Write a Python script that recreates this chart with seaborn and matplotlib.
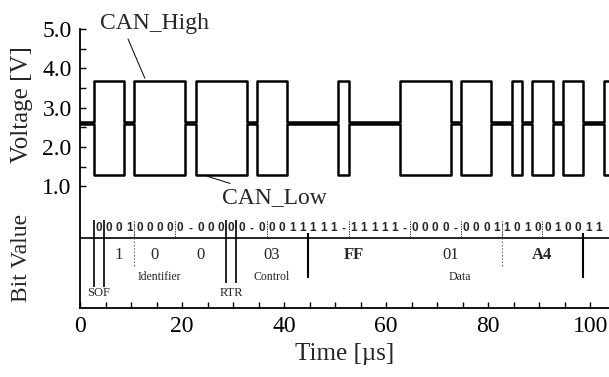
import numpy as np
import pandas as pd
import matplotlib
matplotlib.use("Agg")
import matplotlib.pyplot as plt
import seaborn as sns

# ---------------- data ----------------
bit_time_us = 2.0          # 500 kbit/s
sof_start_us = 2.65        # start of frame
x_max_us = 103.7

# actual bus level of each bit (0 = dominant, 1 = recessive), stuff bits included
bus_levels = [0, 0, 0, 1, 0, 0, 0, 0, 0, 1, 0, 0, 0, 0, 0, 1, 0, 0, 0, 1,
              1, 1, 1, 1, 0, 1, 1, 1, 1, 1, 0, 0, 0, 0, 0, 1, 0, 0, 0, 1,
              1, 0, 1, 0, 0, 1, 0, 0, 1, 1, 0]
# value printed in the "Bit Value" row ('-' = stuff bit)
bit_labels = list("0001" "00000-000" "0" "0-00011" "111-11111-" "0000-0001"
                  "10100100" "110")

# voltages
can_high_dominant = 3.68
can_low_dominant = 1.28
can_high_recessive = 2.63
can_low_recessive = 2.57

# hex groups: (text, first bit index, end bit index, bold)
hex_text = ["1", "0", "0", "03", "FF", "01", "A4"]
hex_start = [1, 4, 8, 14, 21, 30, 40]
hex_end = [4, 8, 13, 21, 30, 40, 48]
hex_bold = [False, False, False, False, True, False, True]

# field names and their label positions (µs)
field_names = ["Identifier", "Control", "Data"]
field_label_us = [15.65, 37.65, 74.5]
small_fields = ["SOF", "RTR"]
small_field_bit = [0, 13]

# ---------------- build waveform table ----------------
n_bits = len(bus_levels)
t_edges = [0.0] + [sof_start_us + k * bit_time_us for k in range(n_bits)] + [x_max_us]
lvl = [1] + bus_levels + [bus_levels[-1]]
high = [can_high_recessive if b else can_high_dominant for b in lvl]
low = [can_low_recessive if b else can_low_dominant for b in lvl]
df = pd.DataFrame({
    "t": t_edges * 2,
    "volts": high + low,
    "line": ["CAN_High"] * len(t_edges) + ["CAN_Low"] * len(t_edges),
})

# ---------------- figure ----------------
sns.set_theme(style="ticks")
plt.rcParams["font.family"] = ["Liberation Serif", "DejaVu Serif"]

fig = plt.figure(figsize=(6.09, 3.77), dpi=100)
ax = fig.add_axes([80 / 609, 1 - 308 / 377, 529 / 609, 279 / 377])

sns.lineplot(data=df, x="t", y="volts", hue="line",
             palette={"CAN_High": "black", "CAN_Low": "black"},
             drawstyle="steps-post", estimator=None, sort=False,
             legend=False, linewidth=1.8, ax=ax)

ax.set_xlim(0, x_max_us)
ax.set_ylim(-2.1, 5.0)
for s in ["top", "right"]:
    ax.spines[s].set_visible(False)
for s in ["left", "bottom"]:
    ax.spines[s].set_linewidth(1.3)
    ax.spines[s].set_color("black")

ax.set_xticks([0, 20, 40, 60, 80, 100])
ax.set_xticks(np.arange(5, 105, 5), minor=True)
ax.set_yticks([1, 2, 3, 4, 5])
ax.set_yticklabels(["1.0", "2.0", "3.0", "4.0", "5.0"])
ax.set_yticks(np.arange(1.5, 5.0, 1.0), minor=True)
ax.tick_params(axis="both", which="both", direction="in", length=4,
               width=1.0, colors="black", labelsize=17, pad=6)
ax.set_xlabel("Time [µs]", fontsize=18, labelpad=4)
ax.set_ylabel("")

fig.text(22 / 609, 1 - 105 / 377, "Voltage [V]", rotation=90, fontsize=18,
         ha="center", va="center")
fig.text(22 / 609, 1 - 258 / 377, "Bit Value", rotation=90, fontsize=17,
         ha="center", va="center")

# annotations of the two lines
ax.annotate("CAN_High", xy=(12.7, 3.75), xytext=(3.9, 5.13),
            fontsize=17, ha="left", va="center", annotation_clip=False,
            arrowprops=dict(arrowstyle="-", color="black", lw=0.7,
                            shrinkA=1, shrinkB=0, relpos=(0.24, 0.0)))
ax.annotate("CAN_Low", xy=(25.0, 1.25), xytext=(27.8, 0.72),
            fontsize=17, ha="left", va="center", annotation_clip=False,
            arrowprops=dict(arrowstyle="-", color="black", lw=0.7,
                            shrinkA=0, shrinkB=0))

# ---------------- bit value panel ----------------
xt = ax.get_xaxis_transform()
# horizontal separator of the bit row
ax.plot([0, 1], [0.251, 0.251], transform=ax.transAxes, color="black",
        lw=1.2, clip_on=False)
# printed bit values (only those that fit inside the visible window)
for k, lab in enumerate(bit_labels):
    tc = sof_start_us + (k + 0.5) * bit_time_us
    if tc > x_max_us - 0.8:
        break
    ax.text(tc, 0.285, lab, transform=xt, ha="center", va="center",
            fontsize=8.5, family=["Liberation Sans", "DejaVu Sans"],
            fontweight="bold")
# short separators in the bit row
for k in [4, 8, 17, 25, 31, 36, 40, 44]:
    tb = sof_start_us + k * bit_time_us
    ax.vlines(tb, 0.255, 0.315, transform=xt, colors="black", lw=0.6,
              linestyles=(0, (1.5, 1.5)))
# long field boundary lines
for k, y0 in [(0, 0.075), (1, 0.075), (13, 0.090), (14, 0.090)]:
    tb = sof_start_us + k * bit_time_us
    ax.vlines(tb, y0, 0.315, transform=xt, colors="black", lw=1.2)
for k in [21, 48]:
    tb = sof_start_us + k * bit_time_us
    ax.vlines(tb, 0.108, 0.27, transform=xt, colors="black", lw=1.5)
for k in [4, 40]:
    tb = sof_start_us + k * bit_time_us
    ax.vlines(tb, 0.15, 0.30, transform=xt, colors="0.45", lw=0.8,
              linestyles=(0, (1.5, 1.5)))
# hex values
for txt, a, b, bold in zip(hex_text, hex_start, hex_end, hex_bold):
    tc = sof_start_us + (a + b) / 2 * bit_time_us
    ax.text(tc, 0.19, txt, transform=xt, ha="center", va="center",
            fontsize=12, fontweight="bold" if bold else "normal")
# field names
for name, tpos in zip(field_names, field_label_us):
    ax.text(tpos, 0.111, name, transform=xt, ha="center", va="center",
            fontsize=8.5)
for name, k in zip(small_fields, small_field_bit):
    tc = sof_start_us + (k + 0.5) * bit_time_us
    ax.text(tc, 0.054, name, transform=xt, ha="center", va="center",
            fontsize=9)

fig.savefig("out.png", dpi=100)
